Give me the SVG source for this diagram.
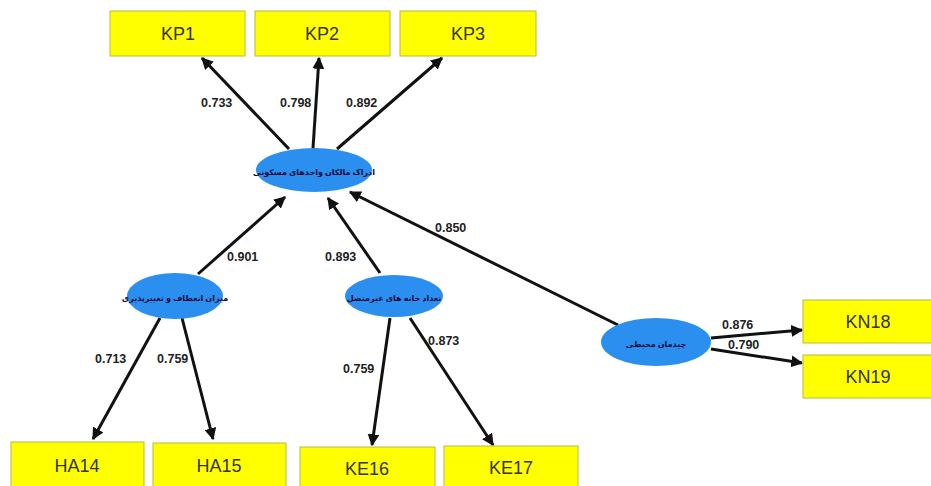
<svg xmlns="http://www.w3.org/2000/svg" width="931" height="486" viewBox="0 0 931 486">
<style>
.box{fill:#ffff00;stroke:#b8b84a;stroke-width:1}
.bt{font-family:"Liberation Sans",Arial,sans-serif;font-size:18px;fill:#333;text-anchor:middle;dominant-baseline:central}
.el{fill:#2b8ff0}
.et{font-family:"Noto Sans","DejaVu Sans",sans-serif;font-size:8px;font-weight:bold;fill:#0a0a3a;text-anchor:middle;dominant-baseline:central}
.ln{stroke:#111;stroke-width:3;fill:none;marker-end:url(#ah)}
.lb{font-family:"Liberation Sans",Arial,sans-serif;font-size:12.5px;font-weight:bold;fill:#222}
</style>
<defs>
<marker id="ah" viewBox="0 0 10 10" refX="9" refY="5" markerWidth="4" markerHeight="4" markerUnits="strokeWidth" orient="auto">
<path d="M0,0 L10,5 L0,10 z" fill="#111"/>
</marker>
</defs>
<rect width="931" height="486" fill="#fff"/>
<g id="connectors">
<line class="ln" x1="289" y1="149" x2="202" y2="58"/>
<line class="ln" x1="313" y1="148" x2="319" y2="58"/>
<line class="ln" x1="337" y1="149" x2="442" y2="58"/>
<line class="ln" x1="198" y1="274" x2="285" y2="197"/>
<line class="ln" x1="380" y1="273" x2="328" y2="198"/>
<line class="ln" x1="618" y1="325" x2="350" y2="192"/>
<line class="ln" x1="160" y1="318" x2="93" y2="439"/>
<line class="ln" x1="182" y1="318" x2="213" y2="439"/>
<line class="ln" x1="390" y1="318" x2="372" y2="445"/>
<line class="ln" x1="410" y1="318" x2="493" y2="445"/>
<line class="ln" x1="711" y1="338" x2="802" y2="330"/>
<line class="ln" x1="711" y1="349" x2="802" y2="363"/>
</g>
<g id="labels">
<text class="lb" x="201" y="107">0.733</text>
<text class="lb" x="280" y="107">0.798</text>
<text class="lb" x="346" y="107">0.892</text>
<text class="lb" x="227" y="261">0.901</text>
<text class="lb" x="325" y="261">0.893</text>
<text class="lb" x="435" y="232">0.850</text>
<text class="lb" x="95" y="363">0.713</text>
<text class="lb" x="157" y="363">0.759</text>
<text class="lb" x="343" y="373">0.759</text>
<text class="lb" x="428" y="345">0.873</text>
<text class="lb" x="722" y="329">0.876</text>
<text class="lb" x="728" y="349">0.790</text>
</g>
<g id="KP1"><rect class="box" x="110" y="11" width="135" height="45"/><text class="bt" x="178" y="34">KP1</text></g>
<g id="KP2"><rect class="box" x="255" y="11" width="135" height="45"/><text class="bt" x="322" y="34">KP2</text></g>
<g id="KP3"><rect class="box" x="400" y="11" width="136" height="45"/><text class="bt" x="468" y="34">KP3</text></g>
<g id="HA14"><rect class="box" x="11" y="442" width="133" height="48"/><text class="bt" x="77" y="466">HA14</text></g>
<g id="HA15"><rect class="box" x="153" y="443" width="133" height="47"/><text class="bt" x="219" y="466">HA15</text></g>
<g id="KE16"><rect class="box" x="300" y="447" width="135" height="43"/><text class="bt" x="367" y="469">KE16</text></g>
<g id="KE17"><rect class="box" x="444" y="446" width="134" height="44"/><text class="bt" x="511" y="468">KE17</text></g>
<g id="KN18"><rect class="box" x="803" y="300" width="132" height="43"/><text class="bt" x="868" y="322">KN18</text></g>
<g id="KN19"><rect class="box" x="803" y="355" width="132" height="43"/><text class="bt" x="868" y="377">KN19</text></g>
<g id="E1"><ellipse class="el" cx="314" cy="170" rx="58" ry="22"/><text class="et" x="314" y="171" direction="rtl">ادراک مالکان واحدهای مسکونی</text></g>
<g id="E2"><ellipse class="el" cx="175" cy="296" rx="48" ry="23"/><text class="et" x="175" y="297" direction="rtl">میزان انعطاف و تغییرپذیری</text></g>
<g id="E3"><ellipse class="el" cx="394" cy="296" rx="49" ry="21"/><text class="et" x="394" y="297" direction="rtl">تعداد خانه های غیرمتصل</text></g>
<g id="E4"><ellipse class="el" cx="656" cy="342" rx="55" ry="24"/><text class="et" x="656" y="343" direction="rtl">چیدمان محیطی</text></g>
</svg>
